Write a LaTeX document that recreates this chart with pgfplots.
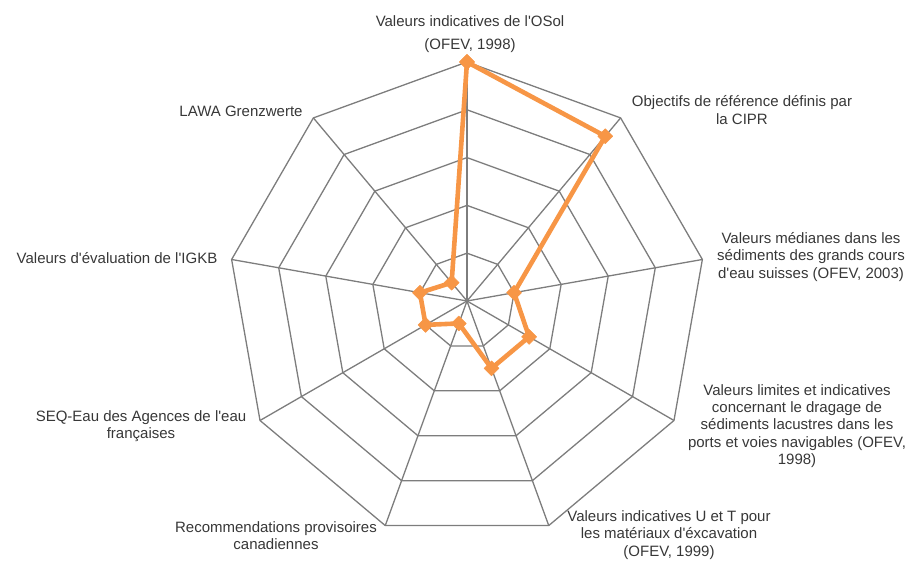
\documentclass[border=0pt]{standalone}
\usepackage{fontspec}
\setmainfont{Liberation Sans}
\usepackage{pgfplots}
\pgfplotsset{compat=1.18}
\definecolor{excelorange}{RGB}{247,150,70}
\definecolor{gridgray}{RGB}{125,125,125}
\definecolor{labelgray}{RGB}{55,55,55}
\newcommand{\labfont}{\fontsize{15bp}{17.3bp}\selectfont}
\newcommand{\q}{\textquotesingle}
\begin{document}
\begin{tikzpicture}
\begin{axis}[
  x=47.8bp, y=47.8bp,
  xmin=-9.770, xmax=9.310, ymin=-5.460, ymax=6.297,
  hide axis, clip=false,
]
  \path (rel axis cs:0,0) rectangle (rel axis cs:1,1);
  % rings (nonagons)
  \pgfplotsinvokeforeach{1,2,3,4,5}{
    \addplot[data cs=polar, gridgray, line width=1.3bp, no marks]
      coordinates {(90,#1) (50,#1) (10,#1) (-30,#1) (-70,#1) (-110,#1) (-150,#1) (170,#1) (130,#1) (90,#1)};
  }
  % spokes
  \pgfplotsinvokeforeach{90,50,10,-30,-70,-110,-150,170,130}{
    \addplot[data cs=polar, gridgray, line width=1.3bp, no marks]
      coordinates {(#1,0) (#1,5)};
  }
  % series
  \addplot[data cs=polar, excelorange, line width=4.6bp, line join=round,
    mark=square*, mark size=5.3bp, mark options={solid, rotate=45, fill=excelorange, line width=0.5bp}]
    coordinates {(90,5) (50,4.5) (10,1) (-30,1.5) (-70,1.5) (-110,0.5) (-150,1) (170,1) (130,0.5) (90,5)};
  % labels
  \begin{scope}[every node/.style={align=center, text=labelgray, font=\labfont, inner sep=0pt}]
  \node at (axis cs:0.063,5.586) {Valeurs indicatives de l\q OSol\\[5.5bp](OFEV, 1998)};
  \node at (axis cs:5.753,3.996) {Objectifs de référence définis par\\la CIPR};
  \node at (axis cs:7.197,0.921) {Valeurs médianes dans les\\sédiments des grands cours\\d\q eau suisses (OFEV, 2003)};
  \node at (axis cs:6.904,-2.615) {Valeurs limites et indicatives\\concernant le dragage de\\sédiments lacustres dans les\\ports et voies navigables (OFEV,\\1998)};
  \node at (axis cs:4.226,-4.895) {Valeurs indicatives U et T pour\\les matériaux d\q éxcavation\\(OFEV, 1999)};
  \node at (axis cs:-3.996,-4.916) {Recommendations provisoires\\canadiennes};
  \node at (axis cs:-6.820,-2.615) {SEQ-Eau des Agences de l\q eau\\françaises};
  \node at (axis cs:-7.322,0.900) {Valeurs d\q évaluation de l\q IGKB};
  \node at (axis cs:-4.728,3.975) {LAWA Grenzwerte};
  \end{scope}
\end{axis}
\end{tikzpicture}
\end{document}
